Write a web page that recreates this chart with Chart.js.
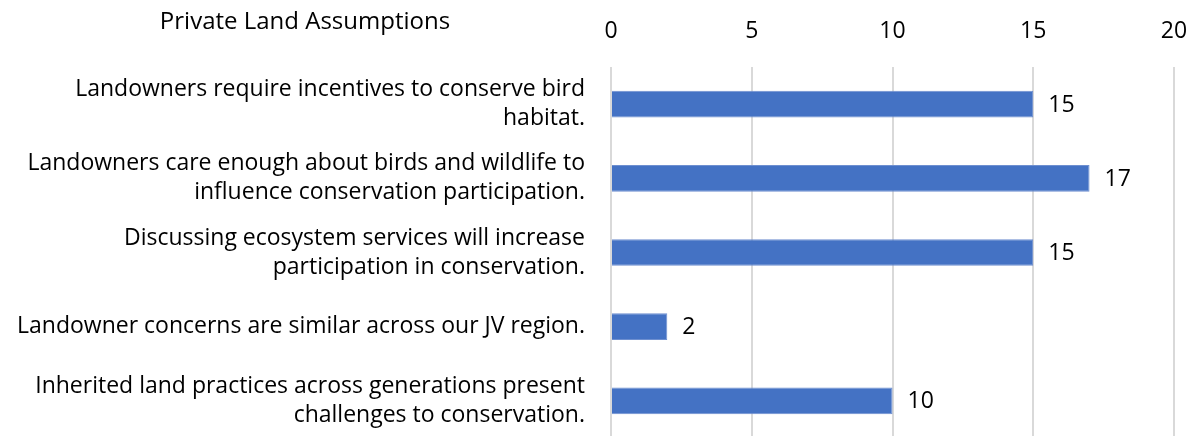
<!DOCTYPE html>
<html>
<head>
<meta charset="utf-8">
<script src="https://cdn.jsdelivr.net/npm/chart.js@4"></script>
<style>
  html, body { margin: 0; padding: 0; overflow: hidden; background: #fff; }
  #wrap { width: 1196px; height: 440px; }
</style>
</head>
<body>
<div id="wrap"><canvas id="chart"></canvas></div>
<script>
const chartTitle = "Private Land Assumptions";
const categories = [
  ["Landowners require incentives to conserve bird", "habitat."],
  ["Landowners care enough about birds and wildlife to", "influence conservation participation."],
  ["Discussing ecosystem services will increase", "participation in conservation."],
  ["Landowner concerns are similar across our JV region."],
  ["Inherited land practices across generations present", "challenges to conservation."],
];
const counts = [15, 17, 15, 2, 10];
const xTicks = [0, 5, 10, 15, 20];

const FONT = "'Open Sans', Lato, sans-serif";
const SIZE = 23;

// value labels just past the end of each bar
const valueLabels = {
  id: "valueLabels",
  afterDatasetsDraw(chart) {
    const ctx = chart.ctx;
    const meta = chart.getDatasetMeta(0);
    ctx.save();
    ctx.font = SIZE + "px " + FONT;
    ctx.fillStyle = "#000";
    ctx.textAlign = "left";
    ctx.textBaseline = "middle";
    meta.data.forEach((bar, i) => {
      ctx.fillText(String(counts[i]), bar.x + 15, bar.y + 1);
    });
    ctx.restore();
  }
};

// title sits over the label column
const sideTitle = {
  id: "sideTitle",
  afterDraw(chart) {
    const ctx = chart.ctx;
    ctx.save();
    ctx.font = "24px " + FONT;
    ctx.fillStyle = "#000";
    ctx.textAlign = "center";
    ctx.textBaseline = "middle";
    ctx.fillText(chartTitle, 305, 22);
    ctx.restore();
  }
};

new Chart(document.getElementById("chart"), {
  type: "bar",
  data: {
    labels: categories,
    datasets: [{
      data: counts,
      backgroundColor: "#4472C4",
      borderColor: "#6E8FD0",
      borderWidth: 1,
      barPercentage: 0.36,
      categoryPercentage: 1.0,
    }],
  },
  options: {
    indexAxis: "y",
    responsive: true,
    maintainAspectRatio: false,
    animation: false,
    layout: { padding: { top: 0, right: 22, bottom: 2, left: 0 } },
    plugins: {
      legend: { display: false },
      tooltip: { enabled: false },
    },
    scales: {
      x: {
        position: "top",
        min: 0,
        max: 20,
        afterBuildTicks(scale) {
          scale.ticks = xTicks.map(v => ({ value: v }));
        },
        afterFit(scale) {
          scale.height = 67;
          scale.paddingLeft = 0;
          scale.paddingRight = 0;
        },
        border: { display: false },
        grid: { color: "#d9d9d9", lineWidth: 2, drawTicks: false },
        ticks: {
          padding: 22,
          color: "#000",
          font: { family: FONT, size: SIZE },
        },
      },
      y: {
        afterFit(scale) {
          scale.width = 611;
          scale.paddingTop = 0;
          scale.paddingBottom = 0;
        },
        border: { display: false },
        grid: { display: false, drawTicks: false },
        ticks: {
          padding: 26,
          color: "#000",
          font: { family: FONT, size: SIZE, lineHeight: 1.26 },
        },
      },
    },
  },
  plugins: [valueLabels, sideTitle],
});
</script>
</body>
</html>
